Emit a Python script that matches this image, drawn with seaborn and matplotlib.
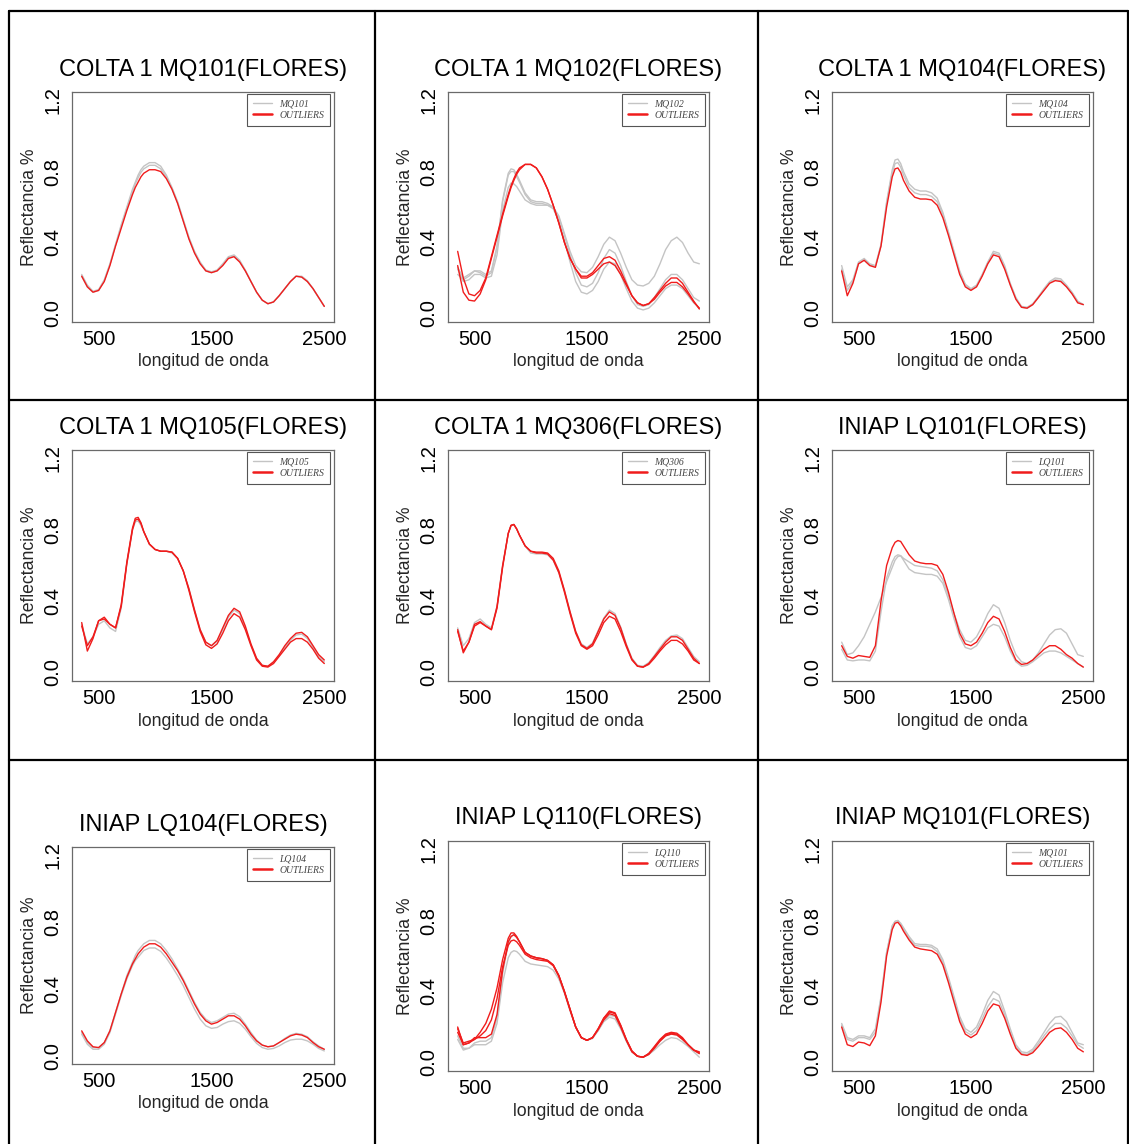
import matplotlib
matplotlib.use("Agg")
import matplotlib.pyplot as plt
from matplotlib.lines import Line2D
from matplotlib.font_manager import FontProperties
import pandas as pd
import seaborn as sns

# ---------------- data ----------------
WAVELENGTH = [350, 400, 450, 500, 550, 600, 650, 700, 750, 800, 825, 850, 875, 900, 950, 1000,
              1050, 1100, 1150, 1200, 1250, 1300, 1350, 1400, 1450, 1500, 1550, 1600,
              1650, 1700, 1750, 1800, 1850, 1900, 1950, 2000, 2050, 2100, 2150, 2200,
              2250, 2300, 2350, 2400, 2450, 2500]

TITLES = ["COLTA 1 MQ101(FLORES)", "COLTA 1 MQ102(FLORES)", "COLTA 1 MQ104(FLORES)",
          "COLTA 1 MQ105(FLORES)", "COLTA 1 MQ306(FLORES)", "INIAP LQ101(FLORES)",
          "INIAP LQ104(FLORES)", "INIAP LQ110(FLORES)", "INIAP MQ101(FLORES)"]
LEGEND_NAMES = ["MQ101", "MQ102", "MQ104", "MQ105", "MQ306", "LQ101", "LQ104", "LQ110", "MQ101"]
OUTLIER_NAME = "OUTLIERS"

# Panel 1 - COLTA 1 MQ101
P1_GREY_1 = [.22,.16,.125,.135,.19,.28,.39,.50,.60,.70,.74,.78,.81,.83,.85,.85,.83,.78,.71,.63,.53,.43,.35,.29,.245,.235,.245,.28,.32,.33,.30,.245,.18,.12,.075,.055,.065,.10,.14,.18,.21,.21,.185,.14,.09,.04]
P1_GREY_2 = [.21,.15,.12,.13,.185,.275,.385,.49,.59,.685,.73,.765,.795,.815,.835,.835,.815,.77,.705,.625,.525,.425,.345,.285,.24,.23,.24,.275,.315,.325,.295,.24,.18,.12,.075,.055,.065,.10,.14,.18,.21,.205,.18,.14,.09,.04]
P1_RED_1 = [.21,.15,.12,.13,.18,.27,.38,.48,.58,.67,.71,.74,.77,.79,.81,.81,.80,.76,.70,.62,.52,.42,.34,.28,.24,.23,.24,.27,.31,.32,.29,.24,.18,.12,.075,.055,.065,.10,.14,.18,.21,.205,.18,.14,.09,.04]

# Panel 2 - COLTA 1 MQ102
P2_GREY_1 = [.26,.20,.22,.24,.24,.22,.24,.38,.63,.78,.80,.80,.77,.74,.67,.63,.62,.62,.61,.60,.55,.45,.35,.27,.235,.23,.26,.32,.39,.43,.41,.34,.26,.19,.16,.155,.17,.21,.28,.36,.41,.43,.40,.34,.29,.28]
P2_GREY_2 = [.22,.19,.21,.24,.23,.21,.23,.37,.64,.79,.815,.81,.785,.75,.68,.64,.63,.63,.62,.60,.54,.44,.33,.23,.16,.15,.17,.23,.31,.36,.34,.27,.18,.10,.05,.04,.05,.09,.14,.19,.22,.22,.19,.14,.09,.07]
P2_GREY_3 = [.25,.18,.19,.22,.22,.20,.21,.33,.58,.71,.735,.73,.715,.69,.64,.62,.61,.61,.61,.59,.52,.41,.29,.18,.12,.11,.13,.18,.25,.29,.28,.22,.14,.07,.03,.02,.03,.06,.10,.14,.16,.16,.14,.10,.06,.03]
P2_RED_1 = [.35,.20,.11,.10,.13,.20,.32,.44,.56,.67,.72,.76,.795,.82,.84,.84,.82,.77,.70,.61,.51,.40,.31,.25,.21,.21,.23,.27,.31,.32,.30,.24,.17,.10,.06,.045,.055,.09,.13,.17,.20,.20,.17,.12,.07,.025]
P2_RED_2 = [.27,.12,.075,.07,.11,.19,.31,.43,.55,.66,.71,.75,.785,.81,.84,.84,.82,.77,.70,.61,.51,.40,.31,.25,.20,.20,.22,.25,.28,.29,.27,.22,.16,.10,.06,.045,.055,.08,.12,.155,.175,.175,.15,.11,.065,.03]

# Panel 3 - COLTA 1 MQ104
P3_GREY_1 = [.27,.15,.19,.29,.31,.28,.27,.39,.63,.81,.865,.87,.845,.80,.73,.70,.69,.69,.68,.65,.57,.46,.35,.24,.165,.14,.16,.22,.29,.35,.34,.27,.17,.09,.04,.035,.055,.095,.14,.18,.20,.195,.16,.12,.07,.05]
P3_GREY_2 = [.25,.13,.18,.28,.30,.275,.265,.38,.62,.79,.845,.85,.825,.78,.71,.68,.67,.67,.66,.63,.56,.45,.34,.23,.16,.135,.155,.215,.285,.34,.33,.26,.165,.085,.035,.03,.05,.09,.135,.175,.19,.185,.155,.115,.065,.05]
P3_RED_1 = [.24,.10,.17,.28,.30,.27,.26,.38,.60,.77,.815,.82,.795,.75,.69,.655,.645,.645,.64,.61,.54,.44,.33,.22,.15,.13,.15,.21,.28,.33,.32,.25,.16,.08,.035,.03,.05,.09,.13,.17,.185,.18,.15,.11,.06,.05]

# Panel 4 - COLTA 1 MQ105
P4_GREY_1 = [.27,.16,.20,.27,.29,.25,.23,.36,.61,.80,.845,.85,.825,.79,.72,.69,.68,.68,.67,.64,.57,.47,.35,.24,.17,.15,.175,.24,.31,.35,.33,.25,.155,.075,.04,.035,.055,.095,.14,.18,.21,.215,.19,.14,.09,.06]
P4_RED_1 = [.28,.12,.19,.29,.31,.27,.25,.38,.62,.81,.865,.87,.84,.79,.72,.69,.68,.68,.675,.64,.57,.47,.35,.24,.17,.15,.18,.25,.32,.36,.34,.26,.16,.08,.04,.035,.06,.10,.15,.19,.22,.225,.20,.15,.10,.07]
P4_RED_2 = [.26,.15,.20,.29,.30,.27,.25,.37,.61,.80,.855,.86,.835,.79,.72,.69,.68,.68,.675,.64,.57,.46,.34,.23,.155,.135,.16,.22,.29,.33,.31,.24,.15,.07,.035,.03,.05,.09,.13,.17,.19,.19,.17,.13,.08,.05]

# Panel 5 - COLTA 1 MQ306
P5_GREY_1 = [.25,.15,.19,.28,.30,.27,.25,.37,.60,.78,.825,.83,.805,.77,.71,.67,.665,.665,.66,.63,.56,.46,.34,.23,.16,.14,.165,.235,.305,.35,.33,.255,.16,.08,.04,.035,.055,.095,.14,.18,.205,.21,.19,.14,.09,.06]
P5_RED_1 = [.24,.11,.17,.27,.285,.26,.24,.37,.60,.78,.825,.83,.805,.77,.71,.68,.675,.675,.67,.64,.57,.46,.34,.23,.155,.135,.16,.23,.30,.34,.32,.25,.155,.075,.035,.03,.05,.09,.13,.17,.20,.20,.18,.13,.08,.05]
P5_RED_2 = [.23,.12,.17,.26,.28,.26,.24,.36,.59,.78,.825,.83,.805,.77,.71,.68,.67,.67,.665,.63,.56,.45,.33,.22,.15,.13,.15,.21,.28,.315,.30,.23,.145,.07,.035,.03,.045,.08,.12,.155,.18,.18,.16,.12,.07,.05]

# Panel 6 - INIAP LQ101
P6_GREY_1 = [.17,.10,.11,.15,.20,.27,.34,.42,.51,.59,.63,.65,.655,.64,.62,.60,.595,.59,.585,.57,.52,.43,.33,.24,.18,.17,.20,.26,.33,.38,.36,.28,.18,.10,.06,.05,.07,.11,.16,.21,.24,.245,.22,.16,.10,.09]
P6_GREY_2 = [.13,.07,.065,.07,.07,.065,.12,.34,.53,.62,.65,.66,.655,.63,.58,.56,.555,.55,.55,.54,.50,.41,.30,.20,.14,.13,.15,.20,.25,.27,.26,.20,.12,.06,.035,.04,.06,.085,.11,.12,.12,.11,.09,.07,.05,.03]
P6_RED_1 = [.15,.09,.08,.095,.09,.085,.15,.40,.60,.70,.73,.74,.735,.71,.66,.625,.615,.61,.61,.60,.55,.45,.33,.22,.16,.15,.17,.22,.28,.315,.30,.23,.14,.07,.045,.05,.07,.10,.13,.15,.15,.13,.10,.08,.05,.03]

# Panel 7 - INIAP LQ104
P7_GREY_1 = [.14,.08,.05,.05,.08,.15,.26,.37,.48,.56,.60,.63,.65,.67,.69,.69,.67,.63,.58,.52,.46,.39,.32,.26,.22,.20,.21,.23,.25,.255,.235,.19,.14,.095,.065,.055,.06,.08,.105,.125,.135,.13,.115,.085,.06,.04]
P7_GREY_2 = [.13,.07,.04,.04,.07,.14,.25,.36,.46,.54,.57,.59,.61,.63,.645,.645,.625,.585,.535,.48,.42,.35,.28,.22,.18,.165,.17,.19,.205,.21,.195,.16,.115,.075,.05,.04,.045,.06,.08,.095,.10,.10,.09,.07,.045,.03]
P7_RED_1 = [.15,.09,.055,.05,.08,.15,.26,.37,.47,.55,.58,.61,.63,.65,.67,.67,.65,.61,.56,.51,.45,.38,.31,.25,.21,.19,.20,.22,.24,.24,.22,.18,.13,.09,.065,.055,.06,.08,.10,.12,.13,.125,.11,.08,.055,.04]

# Panel 8 - INIAP LQ110
P8_GREY_1 = [.15,.08,.08,.10,.10,.10,.12,.22,.45,.59,.62,.63,.625,.61,.57,.555,.55,.545,.54,.52,.47,.39,.29,.20,.14,.125,.135,.18,.23,.255,.245,.19,.12,.06,.035,.03,.045,.07,.10,.125,.14,.135,.115,.09,.06,.03]
P8_GREY_2 = [.13,.07,.08,.11,.12,.12,.14,.25,.50,.67,.71,.72,.705,.68,.62,.60,.59,.585,.575,.55,.49,.40,.30,.20,.14,.125,.14,.18,.235,.265,.26,.20,.125,.06,.035,.03,.05,.085,.12,.15,.16,.155,.13,.10,.07,.05]
P8_RED_1 = [.20,.10,.11,.13,.17,.22,.30,.42,.58,.70,.73,.73,.71,.68,.62,.60,.59,.585,.575,.55,.49,.40,.30,.20,.14,.125,.14,.19,.25,.29,.28,.21,.13,.065,.035,.03,.05,.09,.13,.16,.17,.165,.14,.10,.07,.06]
P8_RED_2 = [.17,.10,.11,.14,.14,.14,.16,.27,.52,.68,.71,.72,.705,.68,.62,.60,.59,.585,.575,.55,.49,.40,.30,.20,.14,.125,.14,.19,.25,.285,.275,.21,.13,.065,.035,.03,.05,.085,.125,.155,.165,.16,.135,.10,.07,.05]
P8_RED_3 = [.19,.11,.12,.13,.15,.18,.24,.36,.54,.66,.685,.69,.68,.66,.61,.59,.58,.575,.57,.545,.485,.395,.295,.20,.14,.125,.14,.185,.24,.275,.265,.20,.125,.06,.035,.03,.045,.08,.12,.15,.16,.155,.13,.10,.07,.055]

# Panel 9 - INIAP MQ101
P9_GREY_1 = [.22,.14,.13,.15,.15,.14,.19,.37,.62,.77,.795,.80,.785,.76,.71,.67,.665,.665,.66,.64,.58,.48,.37,.26,.19,.17,.20,.27,.35,.40,.38,.29,.19,.10,.06,.055,.075,.12,.17,.22,.255,.26,.23,.17,.11,.10]
P9_GREY_2 = [.21,.13,.12,.14,.14,.13,.17,.36,.62,.77,.795,.80,.78,.75,.70,.66,.655,.655,.65,.625,.565,.465,.355,.245,.175,.155,.18,.245,.315,.36,.345,.27,.17,.09,.05,.045,.065,.105,.15,.19,.22,.22,.195,.15,.10,.08]
P9_RED_1 = [.20,.10,.09,.115,.11,.095,.15,.34,.60,.75,.785,.79,.77,.74,.69,.65,.64,.635,.63,.61,.55,.45,.34,.23,.16,.14,.16,.22,.29,.33,.32,.25,.16,.08,.045,.04,.055,.09,.13,.17,.19,.195,.17,.13,.08,.06]

PANEL_GREYS = [[P1_GREY_1, P1_GREY_2], [P2_GREY_1, P2_GREY_2, P2_GREY_3],
               [P3_GREY_1, P3_GREY_2], [P4_GREY_1], [P5_GREY_1],
               [P6_GREY_1, P6_GREY_2], [P7_GREY_1, P7_GREY_2],
               [P8_GREY_1, P8_GREY_2], [P9_GREY_1, P9_GREY_2]]
PANEL_REDS = [[P1_RED_1], [P2_RED_1, P2_RED_2], [P3_RED_1], [P4_RED_1, P4_RED_2],
              [P5_RED_1, P5_RED_2], [P6_RED_1], [P7_RED_1],
              [P8_RED_1, P8_RED_2, P8_RED_3], [P9_RED_1]]

X_TICKS = [500, 1000, 1500, 2000, 2500]
X_TICK_LABELS = ["500", "", "1500", "", "2500"]
Y_TICKS = [0.0, 0.2, 0.4, 0.6, 0.8, 1.0, 1.2]
Y_TICK_LABELS = ["0.0", "", "0.4", "", "0.8", "", "1.2"]

# ---------------- layout (pixels) ----------------
W, H = 1129, 1144
AX_BOXES = [(72, 92, 334, 322), (448, 92, 709, 322), (832, 92, 1093, 322),
            (72, 450, 334, 681), (448, 450, 709, 681), (832, 450, 1093, 681),
            (72, 847, 334, 1064), (448, 841, 709, 1071), (832, 841, 1093, 1071)]
TITLE_Y = [70, 70, 70, 428, 428, 428, 825, 818, 818]
V_LINES = [9, 375, 758, 1127.5]
H_LINES = [11, 400, 760]

GREY = "#c4c4c4"
RED = "#f01c1c"
FRAME = "#6a6a6a"

sns.set_theme(style="white")
plt.rcParams["font.family"] = ["Liberation Sans", "DejaVu Sans"]

fig = plt.figure(figsize=(W / 100, H / 100), dpi=100)
fig.patch.set_facecolor("white")

legend_font = FontProperties(family="Liberation Serif", style="italic", size=7)

for i in range(9):
    l, t, r, b = AX_BOXES[i]
    wpx, hpx = r - l, b - t
    ax = fig.add_axes([l / W, 1 - b / H, wpx / W, hpx / H])
    name = LEGEND_NAMES[i]
    rows = []
    for k, series in enumerate(PANEL_GREYS[i]):
        for w, v in zip(WAVELENGTH, series):
            rows.append({"wl": w, "refl": v, "curve": f"g{k}", "group": name})
    for k, series in enumerate(PANEL_REDS[i]):
        for w, v in zip(WAVELENGTH, series):
            rows.append({"wl": w, "refl": v, "curve": f"r{k}", "group": OUTLIER_NAME})
    df = pd.DataFrame(rows)
    sns.lineplot(data=df, x="wl", y="refl", hue="group", units="curve",
                 estimator=None, hue_order=[name, OUTLIER_NAME],
                 palette={name: GREY, OUTLIER_NAME: RED}, legend=False,
                 linewidth=1.0, sort=False, ax=ax)
    for ln in ax.get_lines():
        ln.set_solid_joinstyle("round")

    ax.set_xlim(264, 2586)
    ax.set_ylim(-0.048, 1.248)
    ax.set_xticks(X_TICKS)
    ax.set_xticklabels(X_TICK_LABELS)
    ax.set_yticks(Y_TICKS)
    ax.set_yticklabels(Y_TICK_LABELS)
    ax.tick_params(axis="both", direction="out", length=5, width=0.8, color=FRAME,
                   labelsize=14.5, labelcolor="black", pad=1)
    ax.tick_params(axis="y", labelrotation=90, pad=2)
    for lab in ax.get_yticklabels():
        lab.set_va("center")
    for sp in ax.spines.values():
        sp.set_color(FRAME)
        sp.set_linewidth(0.9)
        sp.set_visible(True)

    ax.set_xlabel("longitud de onda", fontsize=12.7)
    ax.set_ylabel("Reflectancia %", fontsize=12.7)
    ax.xaxis.set_label_coords(0.5, -40 / hpx)
    ax.yaxis.set_label_coords(-43 / wpx, 0.5)
    ax.xaxis.label.set_va("center")
    ax.yaxis.label.set_va("center")

    fig.text((l + r) / 2 / W, 1 - TITLE_Y[i] / H, TITLES[i], ha="center", va="center",
             fontsize=17, color="black")

    handles = [Line2D([], [], color=GREY, lw=1.0), Line2D([], [], color=RED, lw=1.8)]
    leg = ax.legend(handles, [name, OUTLIER_NAME], loc="upper right",
                    bbox_to_anchor=(1 - 4 / wpx, 1 - 2 / hpx), borderaxespad=0,
                    prop=legend_font, frameon=True, fancybox=False, framealpha=1,
                    handlelength=1.9, handletextpad=0.8, labelspacing=0.2,
                    borderpad=0.6)
    leg.get_frame().set_edgecolor("#555555")
    leg.get_frame().set_linewidth(0.8)
    for txt in leg.get_texts():
        txt.set_color("#444444")

# table borders
for x in V_LINES:
    fig.add_artist(Line2D([x / W, x / W], [1 - H_LINES[0] / H, 0], transform=fig.transFigure,
                          color="black", lw=1.6))
for y in H_LINES:
    fig.add_artist(Line2D([V_LINES[0] / W, V_LINES[-1] / W], [1 - y / H, 1 - y / H],
                          transform=fig.transFigure, color="black", lw=1.6))

fig.savefig("out.png", dpi=100, facecolor="white")
